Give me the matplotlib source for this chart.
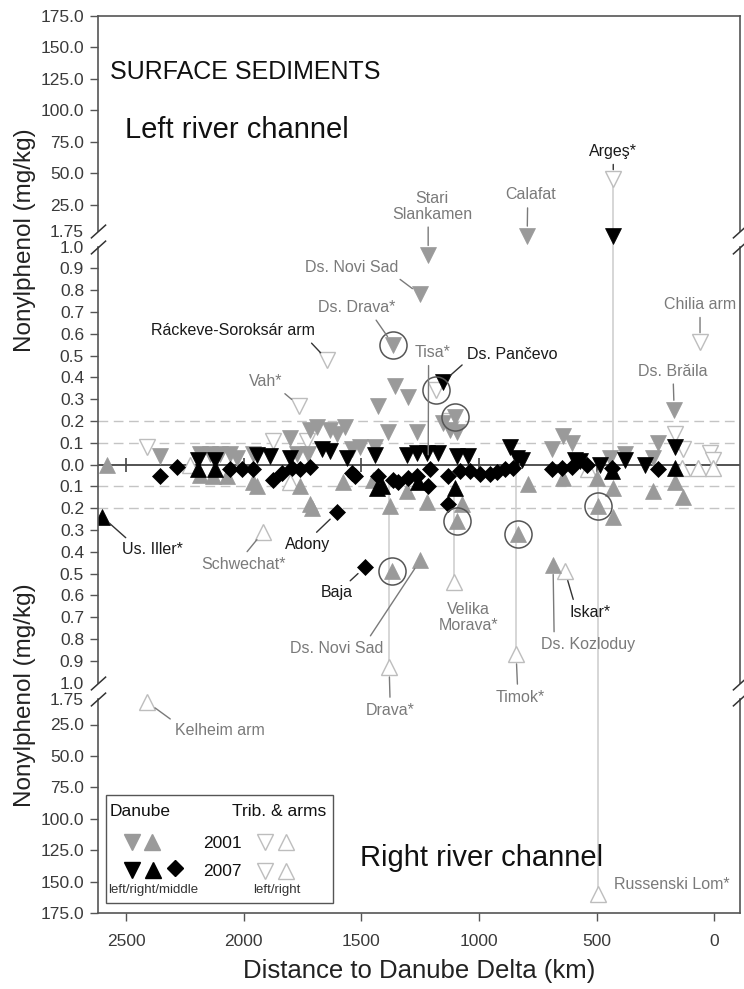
import numpy as np
import matplotlib
matplotlib.use('Agg')
import matplotlib.pyplot as plt
from matplotlib.patches import Rectangle
import matplotlib.transforms as mtransforms

plt.rcParams['font.family'] = ['Liberation Sans', 'DejaVu Sans']

# ---------------- data (km to delta, nonylphenol mg/kg) ----------------
# Danube 2001, left bank (grey down-triangles)
d01_left_km = [2355, 2185, 2143, 2100, 2058, 2028, 1960, 1773, 1726, 1718, 1803,
               1356, 1301, 1429, 1101, 1152, 1122, 1093, 1688, 1633, 1569, 1603,
               1386, 1263, 1441, 1505, 1539, 1216, 1250, 1365, 795, 170, 642, 604,
               689, 238, 378, 259, 442]
d01_left_np = [0.04, 0.05, 0.05, 0.05, 0.05, 0.03, 0.05, 0.05, 0.05, 0.16, 0.12,
               0.36, 0.31, 0.27, 0.22, 0.19, 0.16, 0.15, 0.17, 0.16, 0.17, 0.14,
               0.15, 0.15, 0.08, 0.08, 0.07, 0.96, 0.78, 0.55, 1.5, 0.25, 0.13, 0.10,
               0.07, 0.10, 0.05, 0.03, 0.03]
# Danube 2001, right bank (grey up-triangles)
d01_right_km = [2581, 2185, 2130, 2070, 1960, 1943, 1760, 1718, 1709, 1577, 1450,
                1378, 1305, 1220, 1071, 1093, 833, 1250, 1369, 685, 791, 642, 497,
                429, 259, 166, 132, 429, 493]
d01_right_np = [0.0, 0.05, 0.055, 0.055, 0.08, 0.10, 0.10, 0.18, 0.20, 0.08, 0.07,
                0.19, 0.12, 0.17, 0.18, 0.26, 0.32, 0.44, 0.49, 0.46, 0.09, 0.06, 0.06,
                0.11, 0.12, 0.08, 0.15, 0.24, 0.19]
# Danube 2007, left bank (black down-triangles)
d07_left_km = [2194, 2122, 1943, 1888, 1667, 1633, 1560, 1441, 1305, 1263, 1220,
               1173, 1152, 1093, 1046, 867, 838, 816, 591, 570, 485, 378, 293, 166,
               429, 1803]
d07_left_np = [0.02, 0.02, 0.045, 0.04, 0.07, 0.06, 0.03, 0.045, 0.045, 0.055, 0.055,
               0.055, 0.38, 0.04, 0.04, 0.08, 0.03, 0.02, 0.02, 0.015, 0.0, 0.02, 0.0,
               0.08, 1.5, 0.03]
# Danube 2007, right bank (black up-triangles)
d07_right_km = [2602, 2194, 2122, 1433, 1412, 1101, 434, 166, 1258]
d07_right_np = [0.24, 0.02, 0.02, 0.11, 0.10, 0.11, 0.03, 0.015, 0.08]
# Danube 2007, middle (black diamonds)
d07_mid_km = [2355, 2283, 2058, 2007, 1960, 1875, 1837, 1794, 1760, 1718, 1603, 1484,
              1539, 1526, 1429, 1365, 1344, 1301, 1263, 1216, 1207, 1131, 1131, 1080,
              1037, 995, 952, 923, 889, 855, 689, 646, 604, 540, 434, 238]
d07_mid_np = [0.055, 0.01, 0.02, 0.02, 0.02, 0.07, 0.04, 0.015, 0.02, 0.01, 0.22, 0.47,
              0.04, 0.055, 0.055, 0.07, 0.08, 0.06, 0.055, 0.10, 0.02, 0.055, 0.18, 0.03,
              0.03, 0.045, 0.045, 0.035, 0.02, 0.015, 0.02, 0.015, 0.01, 0.0, 0.015, 0.02]
# Tributaries & arms, left (open down-triangles)
trib_left_km = [2411, 1875, 1730, 1765, 1645, 1182, 1122, 60, 429, 166, 132, 17, 4]
trib_left_np = [0.08, 0.11, 0.11, 0.27, 0.48, 0.34, 0.20, 0.56, 45, 0.14, 0.07, 0.055, 0.02]
# Tributaries & arms, right (open up-triangles)
trib_right_km = [2228, 1803, 1918, 536, 136, 68, 4, 1382, 1105, 842, 634, 2411, 493]
trib_right_np = [0.0, 0.08, 0.31, 0.02, 0.015, 0.015, 0.015, 0.93, 0.54, 0.87, 0.49, 5, 160]
# highlighted (circled) samples, signed: + left channel, - right channel
circ_km = [1365, 1182, 1101, 1093, 1369, 833, 493]
circ_np = [0.55, 0.34, 0.22, -0.26, -0.49, -0.32, -0.19]
# confluence lines (km, from, to; signed)
conf_km = [429, 1382, 1105, 842, 493]
conf_from = [0.0, -0.07, -0.12, -0.02, 0.0]
conf_to = [45, -0.93, -0.54, -0.87, -160]

x_ticks = [2500, 2000, 1500, 1000, 500, 0]
y_ticks_pos = [175, 150, 125, 100, 75, 50, 25, 1.75, 1.0, 0.9, 0.8, 0.7, 0.6, 0.5,
               0.4, 0.3, 0.2, 0.1, 0.0]

# ---------------- broken y scale ----------------
V_KN = np.array([-175, -25, -1.75, -1.0, 0.0, 1.0, 1.75, 25, 175])
U_KN = np.array([-448.5, -260, -234, -218, 0, 218, 234, 260, 448.5])

def fwd(v):
    return np.interp(v, V_KN, U_KN)

def inv(u):
    return np.interp(u, U_KN, V_KN)

W, H = 744, 989
fig = plt.figure(figsize=(W / 100, H / 100), dpi=100)
AX_L, AX_R, AX_T, AX_B = 98, 740, 16, 913
ax = fig.add_axes([AX_L / W, 1 - AX_B / H, (AX_R - AX_L) / W, (AX_B - AX_T) / H])
ax.set_yscale('function', functions=(fwd, inv))
ax.set_ylim(-175, 175)
ax.set_xlim(2620, -110)

GREY = '#9a9a9a'
OPEN = '#bdbdbd'
LBL_G = '#7a7a7a'
LBL_K = '#1a1a1a'
AXC = '#555555'

# ticks
yt = sorted(set([-v for v in y_ticks_pos] + y_ticks_pos))
ax.set_yticks(yt)
ax.set_yticklabels([('%.2f' % abs(v)) if abs(v) == 1.75 else ('%.1f' % abs(v)) for v in yt])
ax.set_xticks(x_ticks)
ax.set_xticklabels([str(v) for v in x_ticks])
ax.tick_params(axis='y', direction='out', length=6, width=1, color=AXC, pad=4,
               labelsize=12.5, labelcolor='#3a3a3a', right=False)
ax.tick_params(axis='x', direction='out', length=6, width=1, color=AXC, pad=9,
               labelsize=12.5, labelcolor='#3a3a3a', top=False)
for t in ax.yaxis.get_major_ticks():
    if abs(abs(t.get_loc()) - 1.75) < 1e-6 or abs(abs(t.get_loc()) - 1.0) < 1e-6:
        t.tick1line.set_visible(False)

# spines with breaks
for s in ['left', 'right']:
    ax.spines[s].set_visible(False)
ax.spines['top'].set_color(AXC)
ax.spines['bottom'].set_color(AXC)
ax.spines['top'].set_linewidth(1.2)
ax.spines['bottom'].set_linewidth(1.2)
for xa in (0, 1):
    tr = mtransforms.blended_transform_factory(ax.transAxes, ax.transData)
    for (a, b) in [(175, 1.75), (1.0, -1.0), (-1.75, -175)]:
        ax.plot([xa, xa], [a, b], transform=tr, color=AXC, lw=1.2, clip_on=False, zorder=5)
    ax.plot([xa] * 4, [1.75, 1.0, -1.0, -1.75], transform=tr, color='#333333',
            marker=[(-1, -0.9), (1, 0.9)], markersize=11, mew=1.1, ls='none',
            clip_on=False, zorder=6)

# reference lines
ax.axhline(0, color='#444444', lw=1.3, zorder=1)
for lv in (0.1, 0.2, -0.1, -0.2):
    ax.axhline(lv, color='#c4c4c4', lw=1.0, ls=(0, (7, 4)), zorder=0.5)
ax.plot(x_ticks, np.zeros(len(x_ticks)), marker='|', ms=10, mew=1.2, ls='none',
        color='#444444', zorder=1.2)

# confluence lines
ax.vlines(conf_km, conf_from, conf_to, color='#d0d0d0', lw=1.2, zorder=0.8)

MS = 11
neg = lambda a: [-v for v in a]
ax.plot(trib_left_km, trib_left_np, 'v', ms=MS, mfc='white', mec=OPEN, mew=1.0, ls='none', zorder=2)
ax.plot(trib_right_km, neg(trib_right_np), '^', ms=MS, mfc='white', mec=OPEN, mew=1.0, ls='none', zorder=2)
ax.plot(d01_left_km, d01_left_np, 'v', ms=MS, mfc=GREY, mec=GREY, mew=0.5, ls='none', zorder=3)
ax.plot(d01_right_km, neg(d01_right_np), '^', ms=MS, mfc=GREY, mec=GREY, mew=0.5, ls='none', zorder=3)
ax.plot(d07_left_km, d07_left_np, 'v', ms=MS, mfc='black', mec='black', mew=0.5, ls='none', zorder=4)
ax.plot(d07_right_km, neg(d07_right_np), '^', ms=MS, mfc='black', mec='black', mew=0.5, ls='none', zorder=4)
ax.plot(d07_mid_km, neg(d07_mid_np), 'D', ms=8.5, mfc='black', mec='black', mew=0.5, ls='none', zorder=4)
ax.plot(circ_km, circ_np, 'o', ms=19.5, mfc='none', mec='#555555', mew=1.1, ls='none', zorder=4.5)

# annotations: text, km, signed value, dx, dy (pixels), colour, relpos, leader
ann = [
    ("Stari\nSlankamen", 1216, 0.96, 4, 49, LBL_G, (0.45, 0.0), True),
    ("Calafat", 795, 1.5, 3, 41, LBL_G, (0.45, 0.0), True),
    ("Ds. Novi Sad", 1250, 0.78, -68, 27, LBL_G, (0.95, 0.0), True),
    ("Ds. Drava*", 1365, 0.55, -36, 37, LBL_G, (0.7, 0.0), True),
    ("Ráckeve-Soroksár arm", 1645, 0.48, -94, 29, LBL_K, (0.95, 0.0), True),
    ("Vah*", 1765, 0.27, -33, 24, LBL_G, (0.9, 0.0), True),
    ("Tisa*", 1216, 0.0, 4, 112, LBL_G, (0.4, 0.0), True),
    ("Ds. Pančevo", 1152, 0.38, 69, 27, LBL_K, (0.0, 0.1), True),
    ("Argeş*", 429, 45, 0, 28, LBL_K, (0.5, 0.0), True),
    ("Chilia arm", 60, 0.56, 0, 38, LBL_G, (0.5, 0.0), True),
    ("Ds. Brăila", 170, 0.25, -1, 39, LBL_G, (0.5, 0.0), True),
    ("Us. Iller*", 2602, -0.24, 50, -33, LBL_K, (0.15, 1.0), True),
    ("Schwechat*", 1918, -0.31, -20, -32, LBL_G, (0.5, 1.0), True),
    ("Adony", 1603, -0.22, -30, -32, LBL_K, (0.6, 1.0), True),
    ("Baja", 1484, -0.47, -28, -26, LBL_K, (0.75, 1.0), True),
    ("Ds. Novi Sad", 1250, -0.44, -83, -88, LBL_G, (0.82, 1.0), True),
    ("Drava*", 1382, -0.93, 1, -43, LBL_G, (0.5, 1.0), True),
    ("Velika\nMorava*", 1105, -0.54, 14, -35, LBL_G, (0.5, 1.0), False),
    ("Timok*", 842, -0.87, 4, -43, LBL_G, (0.45, 1.0), True),
    ("Iskar*", 634, -0.49, 25, -41, LBL_K, (0.13, 1.0), True),
    ("Ds. Kozloduy", 685, -0.46, 35, -80, LBL_G, (0.14, 1.0), True),
    ("Kelheim arm", 2411, -5, 73, -28, LBL_G, (0.0, 1.0), True),
    ("Russenski Lom*", 493, -160, 74, 10, LBL_G, (0.5, 0.5), False),
]
for txt, xk, yv, dx, dy, col, rp, lead in ann:
    kw = {}
    if lead:
        kw['arrowprops'] = dict(arrowstyle='-', color=col if col == LBL_G else '#333333',
                                lw=1.0, shrinkA=2, shrinkB=7, relpos=rp)
    ax.annotate(txt, xy=(xk, yv), xytext=(dx, dy), textcoords='offset pixels',
                ha='center', va='center', fontsize=11.5, color=col,
                linespacing=1.05, zorder=7, **kw)

# big texts
ax.text(12 / 642, (913 - 72) / 897, "SURFACE SEDIMENTS", transform=ax.transAxes,
        fontsize=18, color='#111111', ha='left', va='center')
ax.text(27 / 642, (913 - 130) / 897, "Left river channel", transform=ax.transAxes,
        fontsize=21, color='#111111', ha='left', va='center')
ax.text(262 / 642, (913 - 858) / 897, "Right river channel", transform=ax.transAxes,
        fontsize=21, color='#111111', ha='left', va='center')

ax.set_xlabel("Distance to Danube Delta (km)", fontsize=18.5, color='#222222', labelpad=7)
fig.text(25 / W, 1 - 240 / H, "Nonylphenol (mg/kg)", rotation=90, fontsize=17.5,
         color='#222222', ha='center', va='center')
fig.text(25 / W, 1 - 695 / H, "Nonylphenol (mg/kg)", rotation=90, fontsize=17.5,
         color='#222222', ha='center', va='center')

# legend (drawn by hand)
def axp(px, py):
    return ((px - AX_L) / (AX_R - AX_L), (AX_B - py) / (AX_B - AX_T))

x0, y0 = axp(106, 903)
x1, y1 = axp(333, 795)
ax.add_patch(Rectangle((x0, y0), x1 - x0, y1 - y0, transform=ax.transAxes,
                       facecolor='white', edgecolor=AXC, lw=1.0, zorder=8))
def ltext(px, py, s, size=12.5, col='#111111'):
    x, y = axp(px, py)
    ax.text(x, y, s, transform=ax.transAxes, fontsize=size, color=col,
            ha='left', va='center', zorder=9)
def lmark(px, py, m, fc, ec, ms=MS):
    x, y = axp(px, py)
    ax.plot([x], [y], m, ms=ms, mfc=fc, mec=ec, mew=1.0, transform=ax.transAxes,
            zorder=9, clip_on=False)
ltext(110, 811, "Danube")
ltext(232, 811, "Trib. & arms")
lmark(132, 842, 'v', GREY, GREY)
lmark(152, 842, '^', GREY, GREY)
ltext(203, 843, "2001")
lmark(265, 842, 'v', 'white', OPEN)
lmark(286, 842, '^', 'white', OPEN)
lmark(132, 870, 'v', 'black', 'black')
lmark(153, 870, '^', 'black', 'black')
lmark(175, 868, 'D', 'black', 'black', ms=8.5)
ltext(203, 871, "2007")
lmark(265, 871, 'v', 'white', OPEN)
lmark(286, 871, '^', 'white', OPEN)
ltext(108, 890, "left/right/middle", size=9.5, col='#333333')
ltext(253, 890, "left/right", size=9.5, col='#333333')

fig.savefig('out.png', dpi=100)
